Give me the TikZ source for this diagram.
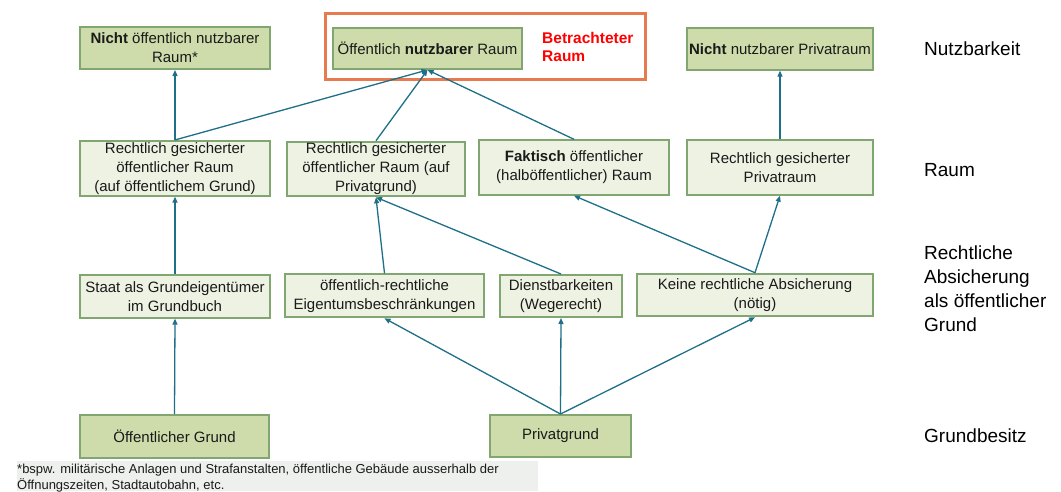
\documentclass[tikz,border=0pt]{standalone}
\usepackage{fontspec}
\setmainfont{Liberation Sans}
\usetikzlibrary{arrows.meta}
\definecolor{boxdark}{HTML}{CDDCAA}
\definecolor{boxlight}{HTML}{EEF2E3}
\definecolor{boxline}{HTML}{82A672}
\definecolor{arr}{HTML}{1E6F87}
\definecolor{framecol}{HTML}{E87A50}
\definecolor{notegray}{HTML}{EEF0EE}
\definecolor{txt}{HTML}{1A1A1A}
\begin{document}
\begin{tikzpicture}[x=1pt,y=-1pt,
  box/.style={draw=boxline, line width=2pt, align=center, inner sep=0pt, text=txt,
    font=\fontsize{15}{19}\selectfont},
  dark/.style={box, fill=boxdark},
  light/.style={box, fill=boxlight},
  conn/.style={draw=arr, line width=1.3pt, -{Triangle[length=6pt,width=5pt]}},
  lab/.style={anchor=north west, align=left, inner sep=0pt, text=black,
    font=\fontsize{19}{23.7}\selectfont},
  focusframe/.style={draw=framecol, line width=3pt, inner sep=0pt}]
\useasboundingbox (0,0) rectangle (1061,491);

% footnote background
\fill[notegray] (16.5,461) rectangle (538,491);

% highlight frame
\node[focusframe, minimum width=320pt, minimum height=65.5pt] (focus) at (485,46.5) {};
\node[anchor=north west, align=left, inner sep=0pt, text=red,
  font=\fontsize{15.5}{18}\selectfont\bfseries] (betr) at (542,32) {Betrachteter\\Raum};

% top row
\node[dark, minimum width=190pt, minimum height=42pt] (A) at (175,48)
  {\textbf{Nicht} öffentlich nutzbarer\\Raum*};
\node[dark, minimum width=189pt, minimum height=41.3pt] (B) at (427.5,48.3)
  {Öffentlich \textbf{nutzbarer} Raum};
\node[dark, minimum width=186pt, minimum height=41.4pt] (C) at (780,49)
  {\textbf{Nicht} nutzbarer Privatraum};

% second row
\node[light, minimum width=190pt, minimum height=54.7pt] (D) at (175,168.3)
  {Rechtlich gesicherter\\öffentlicher Raum\\(auf öffentlichem Grund)};
\node[light, minimum width=178pt, minimum height=54.6pt] (E) at (376,169)
  {Rechtlich gesicherter\\öffentlicher Raum (auf\\Privatgrund)};
\node[light, minimum width=190pt, minimum height=54.4pt] (F) at (574,167.5)
  {\textbf{Faktisch} öffentlicher\\(halböffentlicher) Raum};
\node[light, minimum width=186pt, minimum height=54.4pt] (G) at (780,167.5)
  {Rechtlich gesicherter\\Privatraum};

% third row
\node[light, minimum width=190pt, minimum height=42.7pt] (H) at (175,296.3)
  {Staat als Grundeigentümer\\im Grundbuch};
\node[light, minimum width=199pt, minimum height=43pt] (I) at (384.5,295.8)
  {öffentlich-rechtliche\\Eigentumsbeschränkungen};
\node[light, minimum width=122pt, minimum height=42pt] (J) at (561,296)
  {Dienstbarkeiten\\(Wegerecht)};
\node[light, minimum width=236pt, minimum height=42.6pt] (K) at (755,295)
  {Keine rechtliche Absicherung\\(nötig)};

% bottom row
\node[dark, minimum width=189pt, minimum height=43pt] (L) at (174.5,436.5)
  {Öffentlicher Grund};
\node[dark, minimum width=141pt, minimum height=42pt] (M) at (560.5,436)
  {Privatgrund};

% right-hand labels
\node[lab] (lnutz) at (924,42) {Nutzbarkeit};
\node[lab] (lraum) at (924,163) {Raum};
\node[lab] (lrecht) at (924,246) {Rechtliche\\Absicherung\\als öffentlicher\\Grund};
\node[lab] (lgrund) at (924,429) {Grundbesitz};

% footnote
\node[anchor=north west, align=left, inner sep=0pt, text=txt,
  font=\fontsize{13}{16}\selectfont] (note) at (17,463.5)
  {*bspw. militärische Anlagen und Strafanstalten, öffentliche Gebäude ausserhalb der\\Öffnungszeiten, Stadtautobahn, etc.};

% connectors
\draw[conn] (L.north) -- (H.south);
\draw[conn] (H.north) -- (D.south);
\draw[conn] (D.north) -- (A.south);
\draw[conn] (D.north) -- (B.south);
\draw[conn] (E.north) -- (B.south);
\draw[conn] (F.north) -- (B.south);
\draw[conn] (G.north) -- (C.south);
\draw[conn] (M.north) -- (I.south);
\draw[conn] (M.north) -- (J.south);
\draw[conn] (M.north) -- (K.south);
\draw[conn] (I.north) -- (E.south);
\draw[conn] (J.north) -- (E.south);
\draw[conn] (K.north) -- (F.south);
\draw[conn] (K.north) -- (G.south);
\end{tikzpicture}
\end{document}
